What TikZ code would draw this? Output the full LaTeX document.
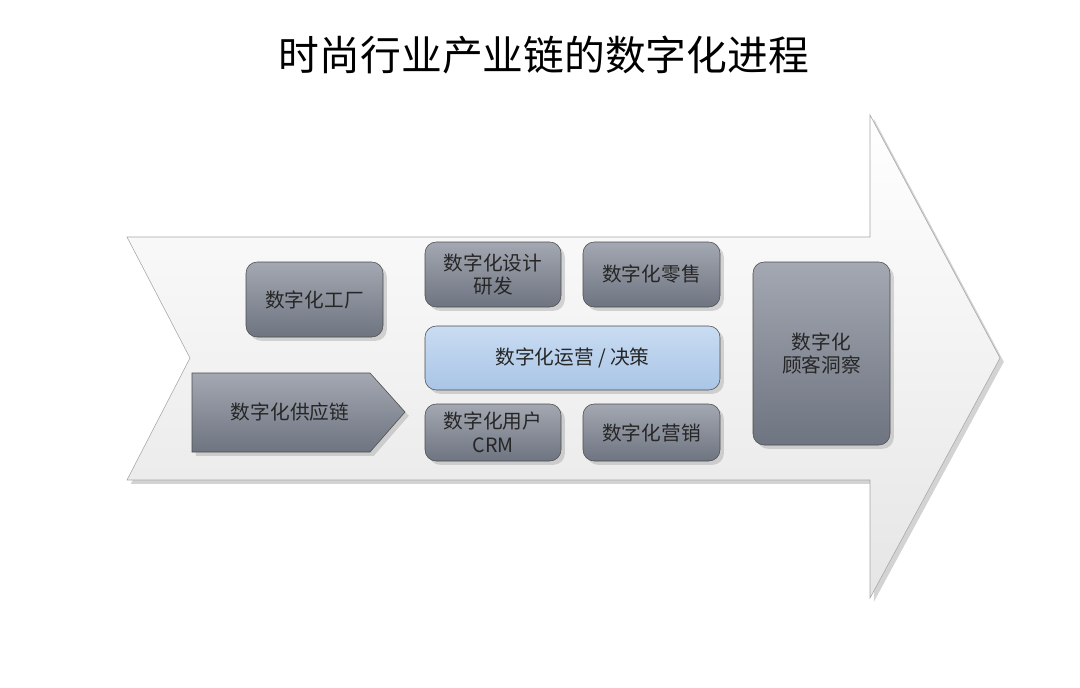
\documentclass[tikz,border=0pt]{standalone}
\usepackage{fontspec}
\setmainfont{Noto Sans CJK SC}
\usetikzlibrary{shadows}
\definecolor{slatetop}{HTML}{A3A8B2}
\definecolor{slatebot}{HTML}{6E7480}
\definecolor{hubtop}{HTML}{C9DCF2}
\definecolor{hubbot}{HTML}{A9C5E6}
\begin{document}
\begin{tikzpicture}[x=0.025cm,y=-0.025cm]
    \tikzstyle{stage}=[rounded corners=8pt, draw=gray!60!black, top color=slatetop, bottom color=slatebot, drop shadow={opacity=0.3}]
    \tikzstyle{hub}=[rounded corners=8pt, draw=gray!60!black, top color=hubtop, bottom color=hubbot, drop shadow={opacity=0.3}]
    \tikzstyle{lbl}=[font=\fontsize{14}{17}\selectfont, align=center, text=black!85]
    \useasboundingbox (0,0) rectangle (1080,687);
    \node[font=\fontsize{29}{34}\selectfont] (title) at (544,55) {时尚行业产业链的数字化进程};

    % big arrow
    \draw[draw=gray!70, top color=white, bottom color=gray!20, drop shadow={opacity=0.35}]
        (127,237) -- (870,237) -- (870,115) -- (1000,358) -- (870,598)
        -- (870,480) -- (127,480) -- (190,358) -- cycle;

    % stages
    \draw[stage] (246,262) rectangle (383,337);
    \node[lbl] (factory) at (314.5,299.5) {数字化工厂};
    \draw[stage] (425,242) rectangle (561,307);
    \node[lbl] (design) at (493,274.5) {数字化设计\\研发};
    \draw[stage] (583,242) rectangle (720,307);
    \node[lbl] (retail) at (651.5,274.5) {数字化零售};
    \draw[hub] (425,326) rectangle (720,390);
    \node[lbl] (ops) at (572.5,358) {数字化运营 / 决策};
    \draw[stage] (425,404) rectangle (561,461);
    \node[lbl] (crm) at (493,432.5) {数字化用户\\CRM};
    \draw[stage] (583,404) rectangle (720,461);
    \node[lbl] (mkt) at (651.5,432.5) {数字化营销};
    \draw[stage] (753,262) rectangle (890,445);
    \node[lbl] (insight) at (821.5,353.5) {数字化\\顾客洞察};
    \draw[draw=gray!60!black, top color=slatetop, bottom color=slatebot, drop shadow={opacity=0.3}]
        (192,373) -- (370,373) -- (405,412) -- (370,452) -- (192,452) -- cycle;
    \node[lbl] (supply) at (290,412) {数字化供应链};
\end{tikzpicture}
\end{document}
